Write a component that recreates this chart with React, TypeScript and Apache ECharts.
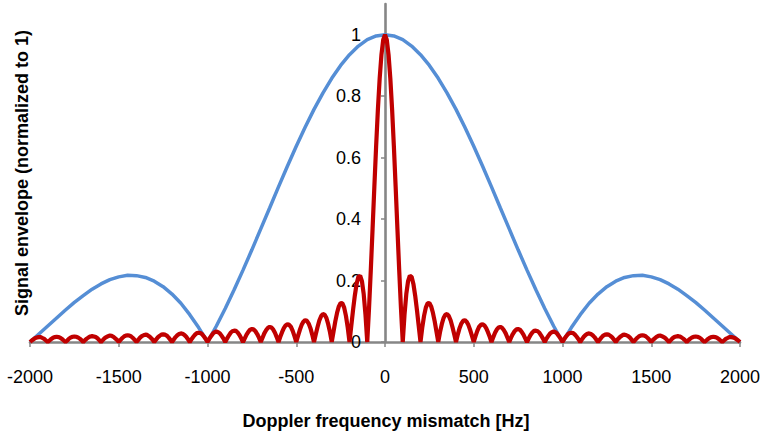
import React, { useEffect, useRef } from "react";
import * as echarts from "echarts";

// Frequency grid (Hz)
const RED_START = -2000;
const RED_STEP = 10;
const BLUE_START = -2000;
const BLUE_STEP = 50;

const xTicks = [-2000, -1500, -1000, -500, 0, 500, 1000, 1500, 2000];
const yTicks = [0, 0.2, 0.4, 0.6, 0.8, 1];

// Wide envelope (blue), sampled every 50 Hz from -2000 to 2000
const blueEnvelope = [
  0, 0.026, 0.052, 0.078, 0.104, 0.129, 0.151, 0.172, 0.189, 0.203,
  0.212, 0.217, 0.216, 0.21, 0.198, 0.18, 0.156, 0.126, 0.089, 0.047,
  0, 0.052, 0.109, 0.17, 0.234, 0.3, 0.368, 0.436, 0.505, 0.572,
  0.637, 0.699, 0.757, 0.81, 0.858, 0.9, 0.935, 0.963, 0.984, 0.996,
  1,
  0.996, 0.984, 0.963, 0.935, 0.9, 0.858, 0.81, 0.757, 0.699, 0.637,
  0.572, 0.505, 0.436, 0.368, 0.3, 0.234, 0.17, 0.109, 0.052, 0,
  0.047, 0.089, 0.126, 0.156, 0.18, 0.198, 0.21, 0.216, 0.217, 0.212,
  0.203, 0.189, 0.172, 0.151, 0.129, 0.104, 0.078, 0.052, 0.026, 0,
];

// Narrow envelope (red), sampled every 10 Hz from -2000 to 2000
const redEnvelope = [
  0, 0.005, 0.009, 0.013, 0.015, 0.016, 0.016, 0.013, 0.010, 0.005,
  0, 0.005, 0.010, 0.014, 0.016, 0.017, 0.016, 0.014, 0.010, 0.005,
  0, 0.005, 0.011, 0.015, 0.017, 0.018, 0.017, 0.015, 0.011, 0.006,
  0, 0.006, 0.011, 0.015, 0.018, 0.019, 0.018, 0.016, 0.012, 0.006,
  0, 0.006, 0.012, 0.016, 0.019, 0.021, 0.020, 0.017, 0.012, 0.007,
  0, 0.007, 0.013, 0.018, 0.021, 0.022, 0.021, 0.018, 0.013, 0.007,
  0, 0.007, 0.014, 0.019, 0.022, 0.024, 0.023, 0.019, 0.014, 0.008,
  0, 0.008, 0.015, 0.020, 0.024, 0.025, 0.024, 0.021, 0.015, 0.008,
  0, 0.008, 0.016, 0.022, 0.026, 0.028, 0.027, 0.023, 0.017, 0.009,
  0, 0.009, 0.017, 0.024, 0.029, 0.030, 0.029, 0.025, 0.018, 0.010,
  0, 0.010, 0.019, 0.027, 0.032, 0.034, 0.032, 0.028, 0.020, 0.011,
  0, 0.011, 0.021, 0.030, 0.035, 0.037, 0.036, 0.031, 0.023, 0.012,
  0, 0.012, 0.024, 0.033, 0.040, 0.042, 0.041, 0.035, 0.026, 0.014,
  0, 0.014, 0.028, 0.038, 0.046, 0.049, 0.047, 0.041, 0.030, 0.016,
  0, 0.017, 0.032, 0.045, 0.054, 0.058, 0.056, 0.049, 0.036, 0.019,
  0, 0.020, 0.039, 0.055, 0.066, 0.071, 0.069, 0.060, 0.045, 0.024,
  0, 0.025, 0.049, 0.070, 0.084, 0.091, 0.089, 0.078, 0.058, 0.032,
  0, 0.034, 0.067, 0.095, 0.116, 0.127, 0.126, 0.112, 0.085, 0.047,
  0, 0.052, 0.104, 0.151, 0.189, 0.212, 0.216, 0.198, 0.156, 0.089,
  0, 0.109, 0.234, 0.368, 0.505, 0.637, 0.757, 0.858, 0.935, 0.984,
  1, 0.984, 0.935, 0.858, 0.757, 0.637, 0.505, 0.368, 0.234, 0.109,
  0, 0.089, 0.156, 0.198, 0.216, 0.212, 0.189, 0.151, 0.104, 0.052,
  0, 0.047, 0.085, 0.112, 0.126, 0.127, 0.116, 0.095, 0.067, 0.034,
  0, 0.032, 0.058, 0.078, 0.089, 0.091, 0.084, 0.070, 0.049, 0.025,
  0, 0.024, 0.045, 0.060, 0.069, 0.071, 0.066, 0.055, 0.039, 0.020,
  0, 0.019, 0.036, 0.049, 0.056, 0.058, 0.054, 0.045, 0.032, 0.017,
  0, 0.016, 0.030, 0.041, 0.047, 0.049, 0.046, 0.038, 0.028, 0.014,
  0, 0.014, 0.026, 0.035, 0.041, 0.042, 0.040, 0.033, 0.024, 0.012,
  0, 0.012, 0.023, 0.031, 0.036, 0.037, 0.035, 0.030, 0.021, 0.011,
  0, 0.011, 0.020, 0.028, 0.032, 0.034, 0.032, 0.027, 0.019, 0.010,
  0, 0.010, 0.018, 0.025, 0.029, 0.030, 0.029, 0.024, 0.017, 0.009,
  0, 0.009, 0.017, 0.023, 0.027, 0.028, 0.026, 0.022, 0.016, 0.008,
  0, 0.008, 0.015, 0.021, 0.024, 0.025, 0.024, 0.020, 0.015, 0.008,
  0, 0.008, 0.014, 0.019, 0.023, 0.024, 0.022, 0.019, 0.014, 0.007,
  0, 0.007, 0.013, 0.018, 0.021, 0.022, 0.021, 0.018, 0.013, 0.007,
  0, 0.007, 0.012, 0.017, 0.020, 0.021, 0.019, 0.016, 0.012, 0.006,
  0, 0.006, 0.012, 0.016, 0.018, 0.019, 0.018, 0.015, 0.011, 0.006,
  0, 0.006, 0.011, 0.015, 0.017, 0.018, 0.017, 0.015, 0.011, 0.005,
  0, 0.005, 0.010, 0.014, 0.016, 0.017, 0.016, 0.014, 0.010, 0.005,
  0, 0.005, 0.010, 0.013, 0.016, 0.016, 0.015, 0.013, 0.009, 0.005,
  0,
];

const X_TITLE = "Doppler frequency mismatch [Hz]";
const Y_TITLE = "Signal envelope (normalized to 1)";

const FONT = "'Liberation Sans', Arial, Helvetica, sans-serif";
const AXIS_GRAY = "#868686";

const GRID_LEFT = 30;
const GRID_WIDTH = 710;

export default function App() {
  const ref = useRef<HTMLDivElement>(null);

  useEffect(() => {
    if (!ref.current) return;
    const chart = echarts.init(ref.current, null, { renderer: "svg" });

    const blueData = blueEnvelope.map((v, i) => [BLUE_START + i * BLUE_STEP, v]);
    const redData = redEnvelope.map((v, i) => [RED_START + i * RED_STEP, v]);

    chart.setOption({
      animation: false,
      backgroundColor: "#ffffff",
      grid: {
        left: GRID_LEFT,
        width: GRID_WIDTH,
        top: 4,
        bottom: 92,
        containLabel: false,
        outerBoundsMode: "none",
      },
      xAxis: {
        type: "value",
        min: -2000,
        max: 2000,
        interval: 500,
        splitLine: { show: false },
        axisLine: { show: true, onZero: false, lineStyle: { color: AXIS_GRAY, width: 2.6 } },
        axisTick: {
          show: true,
          length: 5,
          customValues: xTicks,
          lineStyle: { color: AXIS_GRAY, width: 1.5 },
        },
        axisLabel: {
          margin: 26,
          fontSize: 18,
          color: "#000",
          fontFamily: FONT,
          customValues: xTicks,
          formatter: (v: number) => String(v),
        },
      },
      yAxis: {
        type: "value",
        min: 0,
        max: 1.1,
        interval: 0.2,
        position: "left",
        offset: -GRID_WIDTH / 2,
        splitLine: { show: false },
        axisLine: { show: true, onZero: false, lineStyle: { color: AXIS_GRAY, width: 2.6 } },
        axisTick: {
          show: true,
          length: 4,
          customValues: yTicks,
          lineStyle: { color: AXIS_GRAY, width: 1.5 },
        },
        axisLabel: {
          margin: 24,
          fontSize: 18,
          color: "#000",
          fontFamily: FONT,
          customValues: yTicks,
          formatter: (v: number) => String(Math.round(v * 10) / 10),
        },
      },
      graphic: [
        {
          type: "text",
          x: 22,
          y: 173,
          rotation: Math.PI / 2,
          style: {
            text: Y_TITLE,
            font: `bold 18px ${FONT}`,
            fill: "#000",
            textAlign: "center",
            textVerticalAlign: "middle",
          },
        },
        {
          type: "text",
          x: 386,
          y: 421,
          style: {
            text: X_TITLE,
            font: `bold 18px ${FONT}`,
            fill: "#000",
            textAlign: "center",
            textVerticalAlign: "middle",
          },
        },
      ],
      series: [
        {
          name: "wide",
          type: "line",
          data: blueData,
          showSymbol: false,
          smooth: false,
          lineStyle: { color: "#558ED5", width: 3.5 },
          z: 2,
        },
        {
          name: "narrow",
          type: "line",
          data: redData,
          showSymbol: false,
          smooth: false,
          lineStyle: { color: "#C00000", width: 4.2 },
          z: 3,
        },
      ],
    });

    return () => chart.dispose();
  }, []);

  return (
    <div
      ref={ref}
      style={{ position: "fixed", left: 0, top: 0, width: 763, height: 434, background: "#fff" }}
    />
  );
}
